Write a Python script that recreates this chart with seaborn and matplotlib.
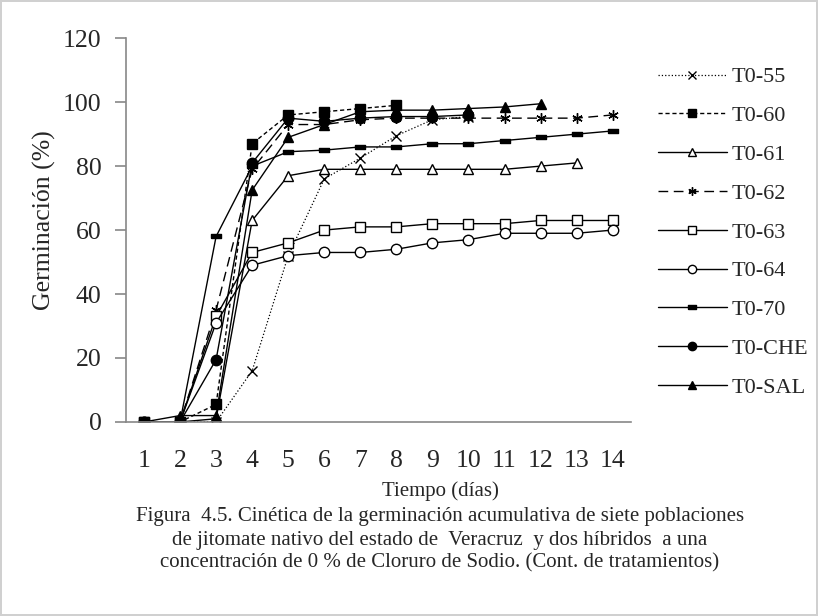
import numpy as np
import pandas as pd
import seaborn as sns
import matplotlib.pyplot as plt
from matplotlib.path import Path

# datos (germinacion acumulada, %)
days = list(range(1, 15))
t0_55 = [0, 0, 0, 16, 52, 76, 82.5, 89.5, 94.5, 95.5]
t0_60 = [0, 0, 5.5, 87, 96, 97, 98, 99]
t0_61 = [0, 0, 1, 63, 77, 79, 79, 79, 79, 79, 79, 80, 81]
t0_62 = [0, 0, 35, 79, 93, 93, 94.5, 95, 95, 95, 95, 95, 95, 96]
t0_63 = [0, 0, 33, 53, 56, 60, 61, 61, 62, 62, 62, 63, 63, 63]
t0_64 = [0, 0, 31, 49, 52, 53, 53, 54, 56, 57, 59, 59, 59, 60]
t0_70 = [0, 0, 58, 80, 84.5, 85, 86, 86, 87, 87, 88, 89, 90, 91]
t0_che = [0, 0, 19.5, 81, 95, 94, 95, 95.5, 95.5, 96]
t0_sal = [0, 2, 2, 72.5, 89, 93, 97, 97.5, 97.5, 98, 98.5, 99.5]

labels = ['T0-55', 'T0-60', 'T0-61', 'T0-62', 'T0-63', 'T0-64', 'T0-70', 'T0-CHE', 'T0-SAL']
series = [t0_55, t0_60, t0_61, t0_62, t0_63, t0_64, t0_70, t0_che, t0_sal]

bar = Path([(-1, -0.4), (1, -0.4), (1, 0.4), (-1, 0.4), (-1, -0.4)])
asterisk = (6, 2, 0)
styles = [
    dict(ls=':', marker='x', mfc='black', lw=0.9),
    dict(ls=(0, (3, 2)), marker='s', mfc='black', lw=1.0),
    dict(ls='-', marker='^', mfc='white', lw=1.0),
    dict(ls=(0, (7, 4)), marker=asterisk, mfc='black', lw=1.0),
    dict(ls='-', marker='s', mfc='white', lw=1.0),
    dict(ls='-', marker='o', mfc='white', lw=1.0),
    dict(ls='-', marker=bar, mfc='black', lw=1.0),
    dict(ls='-', marker='o', mfc='black', lw=1.0),
    dict(ls='-', marker='^', mfc='black', lw=1.0),
]

sns.set_style('white')
plt.rcParams['font.family'] = ['Liberation Serif', 'DejaVu Serif']

fig = plt.figure(figsize=(8.18, 6.16), dpi=100)
fig.patch.set_edgecolor('#d0d0d0')
fig.patch.set_linewidth(1.5)
ax = fig.add_axes([0.154, 0.315, 0.617, 0.623])

for lab, vals, st in zip(labels, series, styles):
    df = pd.DataFrame({'dia': days[:len(vals)], 'germ': vals})
    sns.lineplot(data=df, x='dia', y='germ', ax=ax, color='black',
                 linestyle=st['ls'], linewidth=st['lw'], marker=st['marker'],
                 markersize=7.5, markerfacecolor=st['mfc'], markeredgecolor='black',
                 markeredgewidth=1.0, label=lab)

ax.set_xlim(0.5, 14.5)
ax.set_ylim(0, 120)
ax.set_xticks(days)
ax.set_yticks(range(0, 121, 20))
for s in ['top', 'right']:
    ax.spines[s].set_visible(False)
for s in ['left', 'bottom']:
    ax.spines[s].set_color('#888888')
    ax.spines[s].set_linewidth(1.2)
ax.tick_params(axis='y', left=True, length=8, width=1.2, color='#888888', labelsize=18.5, pad=9.5)
ax.tick_params(axis='x', bottom=False, labelsize=18.5, pad=17)
ax.set_xlabel('')
ax.set_ylabel('Germinación (%)', fontsize=18.5)
ax.yaxis.set_label_coords(56 / 818, 1 - 220 / 616, transform=fig.transFigure)

leg = ax.legend(loc='upper left', bbox_to_anchor=(649 / 818, 1 - 58 / 616),
                bbox_transform=fig.transFigure, frameon=False, fontsize=16,
                handlelength=3.1, labelspacing=0.82, markerscale=0.8,
                handletextpad=0.2, borderaxespad=0)

fig.text(440 / 818, 1 - 491 / 616, 'Tiempo (días)', ha='center', va='center', fontsize=15)
caption = ['Figura  4.5. Cinética de la germinación acumulativa de siete poblaciones',
           'de jitomate nativo del estado de  Veracruz  y dos híbridos  a una',
           'concentración de 0 % de Cloruro de Sodio. (Cont. de tratamientos)']
for i, line in enumerate(caption):
    fig.text(440 / 818, 1 - (517 + 23 * i) / 616, line, ha='center', va='center', fontsize=15)

fig.savefig('out.png', dpi=100, edgecolor=fig.get_edgecolor())
